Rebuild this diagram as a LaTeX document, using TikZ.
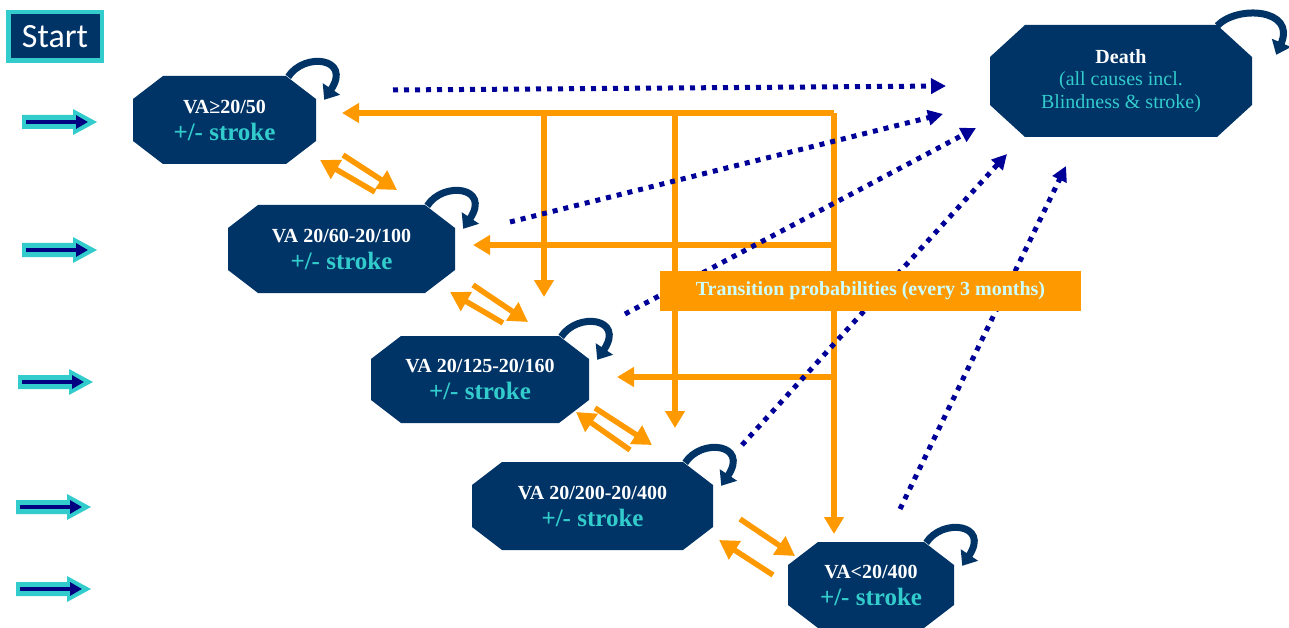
\documentclass[tikz,border=0pt]{standalone}
\usepackage{fontspec}
\setmainfont{Liberation Serif}
\newfontfamily\calib{Carlito}
\usetikzlibrary{arrows.meta,calc}
\definecolor{navybox}{HTML}{003366}
\definecolor{cyanc}{HTML}{33CCCC}
\definecolor{orangec}{HTML}{FF9900}
\definecolor{dotblue}{HTML}{000099}
\definecolor{navyin}{HTML}{000080}
\definecolor{lightcyan}{HTML}{CCFFFF}
\begin{document}
\begin{tikzpicture}[x=1pt,y=-1pt,
  octo/.style 2 args={rectangle, inner sep=0pt, align=center, text=white,
    path picture={\fill[navybox]
      ([xshift=#1]path picture bounding box.north west) --
      ([xshift=-#1]path picture bounding box.north east) --
      ([yshift=-#2]path picture bounding box.north east) --
      ([yshift=#2]path picture bounding box.south east) --
      ([xshift=-#1]path picture bounding box.south east) --
      ([xshift=#1]path picture bounding box.south west) --
      ([yshift=#2]path picture bounding box.south west) --
      ([yshift=-#2]path picture bounding box.north west) -- cycle;}},
  vastate/.style={octo={30pt}{23pt}, font=\fontsize{20}{27}\selectfont\bfseries},
  oarr/.style={draw=orangec, line width=5.5pt, -{Triangle[length=17pt,width=19pt]}},
  parr/.style={draw=orangec, line width=5.5pt, -{Triangle[length=19pt,width=21pt]}},
  darr/.style={draw=dotblue, line width=5pt, dash pattern=on 5pt off 6pt, -{Triangle[length=15pt,width=15pt]}},
  looparr/.style={draw=navybox, line width=7pt, -{Triangle[length=13pt,width=20pt]}},
  entryarrow/.pic={
    \fill[cyanc] (0,-7) -- (51,-7) -- (51,-13) -- (75,0) -- (51,13) -- (51,7) -- (0,7) -- cycle;
    \draw[navyin, line width=4.5pt, -{Triangle[length=12pt,width=13pt]}] (4,0) -- (66,0);
  }
]
\useasboundingbox (0,0) rectangle (1289,628);

% start box
\node[draw=cyanc, line width=4.5pt, fill=navybox, minimum width=93.5pt, minimum height=48.5pt,
      inner sep=0pt, text=white, font=\calib\fontsize{34}{34}\selectfont] (start) at (55,36.5) {Start};

% entry arrows
\pic at (22,122) {entryarrow};
\pic at (22,250) {entryarrow};
\pic at (18,382) {entryarrow};
\pic at (16,507) {entryarrow};
\pic at (16,589) {entryarrow};

% states
\node[vastate, minimum width=183pt, minimum height=88pt] (n1) at (224.5,120)
  {VA≥20/50\\{\fontsize{25}{27}\selectfont\color{cyanc}+/- stroke}};
\node[vastate, minimum width=227pt, minimum height=88pt] (n2) at (341.5,249)
  {VA 20/60-20/100\\{\fontsize{25}{27}\selectfont\color{cyanc}+/- stroke}};
\node[vastate, minimum width=218pt, minimum height=87pt] (n3) at (480,379.5)
  {VA 20/125-20/160\\{\fontsize{25}{27}\selectfont\color{cyanc}+/- stroke}};
\node[vastate, minimum width=241pt, minimum height=88pt] (n4) at (592.5,506)
  {VA 20/200-20/400\\{\fontsize{25}{27}\selectfont\color{cyanc}+/- stroke}};
\node[vastate, minimum width=166pt, minimum height=86pt] (n5) at (871,585)
  {VA<20/400\\{\fontsize{25}{27}\selectfont\color{cyanc}+/- stroke}};
\node[octo={35pt}{32pt}, minimum width=262pt, minimum height=112pt,
      font=\fontsize{20}{22.5}\selectfont] (death) at (1121,81)
  {\textbf{Death}\\{\color{cyanc}(all causes incl.}\\{\color{cyanc}Blindness \& stroke)}};

% self loops
\foreach \n in {n1,n2,n3,n4,n5}{
  \draw[looparr] ([shift={(-28pt,-1pt)}]\n.north east) .. controls ([shift={(-12pt,24pt)}]\n.north east) and ([shift={(36pt,18pt)}]\n.north east) .. ([shift={(8pt,-24pt)}]\n.north east);
}
\draw[looparr] ([shift={(-35pt,-1pt)}]death.north east) .. controls ([shift={(-15pt,20pt)}]death.north east) and ([shift={(44pt,16pt)}]death.north east) .. ([shift={(24pt,-30pt)}]death.north east);

% orange transition lines
\coordinate (rk) at (834,113);
\coordinate (t1) at (342,113);
\coordinate (t2) at (473,245);
\coordinate (t3) at (617,377);
\coordinate (v1) at (544,113);
\coordinate (v2) at (675,113);
\coordinate (b1) at (544,297);
\coordinate (b2) at (675,428);
\coordinate (b3) at (834,534);
\coordinate (h2) at (834,245);
\coordinate (h3) at (834,377);
\draw[oarr] (rk) -- (t1);
\draw[oarr] (v1) -- (b1);
\draw[oarr] (v2) -- (b2);
\draw[oarr] (rk) -- (b3);
\draw[oarr] (h2) -- (t2);
\draw[oarr] (h3) -- (t3);

% orange pairs between neighbouring states
\coordinate (p1a) at (343,155); \coordinate (p1b) at (397,190);
\coordinate (p1c) at (375,192); \coordinate (p1d) at (320,160);
\coordinate (p2a) at (473,285); \coordinate (p2b) at (528,322);
\coordinate (p2c) at (503,323); \coordinate (p2d) at (450,292);
\coordinate (p3a) at (595,408); \coordinate (p3b) at (652,445);
\coordinate (p3c) at (630,450); \coordinate (p3d) at (576,412);
\coordinate (p4a) at (740,519); \coordinate (p4b) at (795,556);
\coordinate (p4c) at (773,575); \coordinate (p4d) at (719,540);
\foreach \i in {1,2,3,4}{
  \draw[parr] (p\i a) -- (p\i b);
  \draw[parr] (p\i c) -- (p\i d);
}

% dotted death arrows
\coordinate (d1s) at (393,90);  \coordinate (d1e) at (946,86);
\coordinate (d2s) at (510,222); \coordinate (d2e) at (943,114);
\coordinate (d3s) at (625,314); \coordinate (d3e) at (976,128);
\coordinate (d4s) at (742,445); \coordinate (d4e) at (1007,154);
\coordinate (d5s) at (900,509); \coordinate (d5e) at (1066,166);
\foreach \i in {1,...,5}{
  \draw[darr] (d\i s) -- (d\i e);
}

% transition label
\node[fill=orangec, minimum width=421pt, minimum height=40pt, inner sep=0pt,
      text=lightcyan, font=\fontsize{20}{24}\selectfont\bfseries] (trans) at (870.5,291)
  {Transition probabilities (every 3 months)};
\end{tikzpicture}
\end{document}
